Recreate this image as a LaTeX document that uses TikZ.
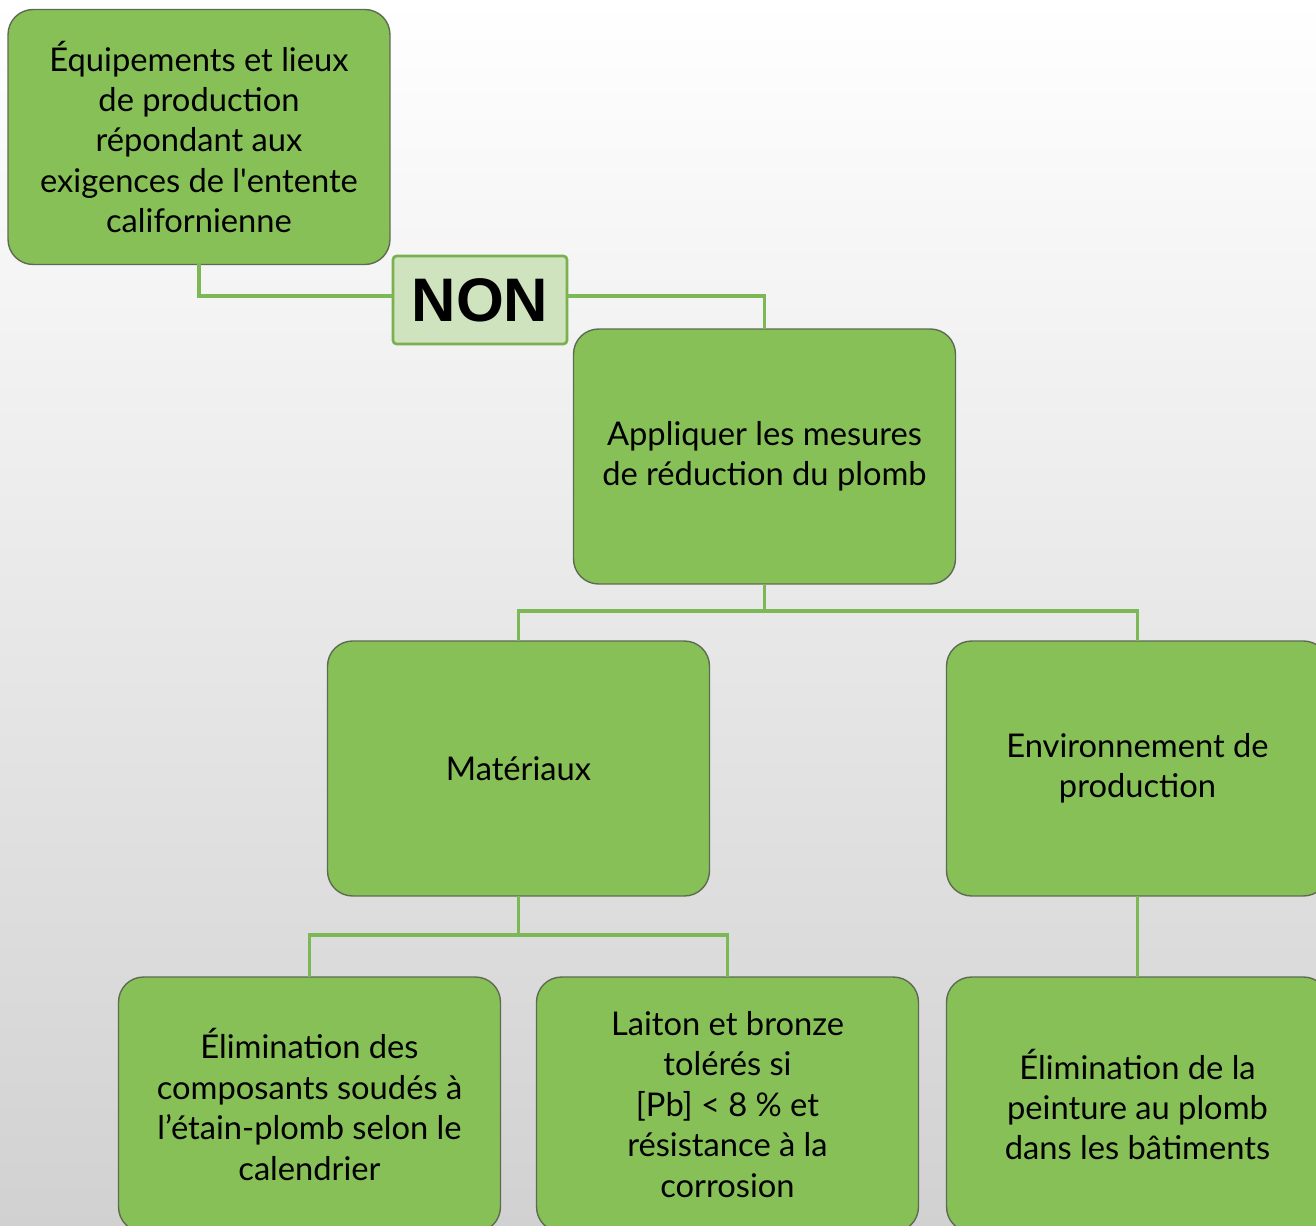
\documentclass[tikz,border=0pt]{standalone}
\usepackage{fontspec}
\setmainfont{Lato}
\newfontfamily\nonfont{Liberation Sans}
\definecolor{boxgreen}{HTML}{87C057}
\definecolor{boxedge}{HTML}{5E6B52}
\definecolor{nongreen}{HTML}{CFE3BF}
\definecolor{nonedge}{HTML}{7AB04E}
\definecolor{linkgreen}{HTML}{7DB856}

\begin{document}
\begin{tikzpicture}[x=0.02cm, y=-0.02cm,
	box/.style={draw=boxedge, line width=0.8pt, fill=boxgreen, rounded corners=0.5cm,
		minimum width=7.64cm, minimum height=5.1cm, inner sep=0pt, outer sep=0pt,
		align=center, font=\fontsize{18.6}{23}\selectfont},
	nonbox/.style={draw=nonedge, line width=1.5pt, fill=nongreen, rounded corners=2pt,
		minimum width=3.48cm, minimum height=1.76cm, inner sep=0pt, outer sep=0pt,
		font=\nonfont\bfseries\fontsize{35}{40}\selectfont},
	link/.style={draw=linkgreen, line width=1.9pt}]

	% Background
	\clip (0,0) rectangle (1316,1226);
	\shade[top color=white, middle color=black!5, bottom color=black!18] (0,0) rectangle (1316,1226);

	% Draw boxes
	\node[box] (equip) at (199,137) {Équipements et lieux\\de production\\répondant aux\\exigences de l\textquotesingle entente\\californienne};
	\node[nonbox] (non) at (480,300) {NON};
	\node[box] (appl) at (764.5,456.5) {Appliquer les mesures\\de réduction du plomb};
	\node[box] (mat) at (518.5,768.5) {Matériaux};
	\node[box] (env) at (1137.5,768.5) {Environnement de\\production};
	\node[box] (elim) at (309.5,1104.5) {Élimination des\\composants soudés à\\l’étain-plomb selon le\\calendrier};
	\node[box] (laiton) at (727.5,1104.5) {Laiton et bronze\\tolérés si\\{[Pb]} < 8 \% et\\résistance à la\\corrosion};
	\node[box] (peint) at (1137.5,1104.5) {Élimination de la\\peinture au plomb\\dans les bâtiments};

	% Connectors
	\draw[link] (equip.south) |- ([yshift=0.08cm]non.west);
	\draw[link] ([yshift=0.08cm]non.east) -| (appl.north);

	\draw[link] (appl.south) -- ++(0,27) coordinate (split1);
	\draw[link] (split1) -| (mat.north);
	\draw[link] (split1) -| (env.north);

	\draw[link] (mat.south) -- ++(0,39) coordinate (split2);
	\draw[link] (split2) -| (elim.north);
	\draw[link] (split2) -| (laiton.north);

	\draw[link] (env.south) -- (peint.north);
\end{tikzpicture}
\end{document}
